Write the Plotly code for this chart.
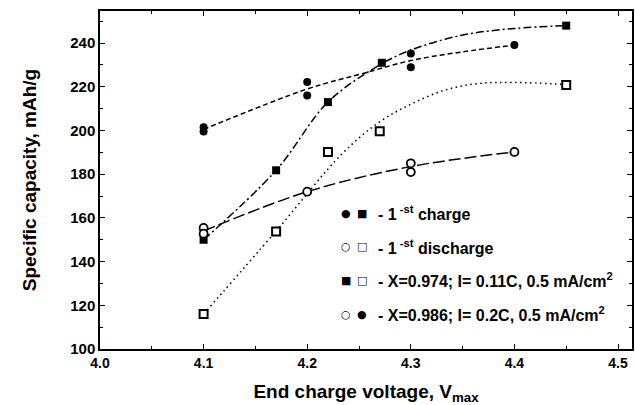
import plotly.graph_objects as go

# ---------------- data ----------------
# X=0.986, 1st charge (filled circles)
a_x = [4.1, 4.1, 4.2, 4.2, 4.3, 4.3, 4.4]
a_y = [201.5, 199.5, 222.2, 216.0, 235.3, 228.9, 239.1]
# X=0.974, 1st charge (filled squares)
b_x = [4.1, 4.17, 4.22, 4.272, 4.45]
b_y = [150.0, 181.8, 213.0, 231.0, 248.0]
# X=0.974, 1st discharge (open squares)
c_x = [4.1, 4.17, 4.22, 4.27, 4.45]
c_y = [116.0, 153.8, 190.2, 199.7, 220.8]
# X=0.986, 1st discharge (open circles)
d_x = [4.1, 4.1, 4.2, 4.3, 4.3, 4.4]
d_y = [155.4, 152.8, 172.0, 185.0, 181.0, 190.2]

# guide curves drawn through the data
a_fit_x = [4.1, 4.2, 4.253, 4.30, 4.35, 4.40]
a_fit_y = [200.5, 219.0, 226.0, 232.0, 236.0, 239.1]
b_fit_x = [4.1, 4.17, 4.22, 4.27, 4.30, 4.35, 4.40, 4.45]
b_fit_y = [150.0, 181.8, 213.0, 230.0, 236.8, 243.7, 246.7, 248.0]
c_fit_x = [4.1, 4.17, 4.234, 4.27, 4.30, 4.333, 4.365, 4.40, 4.45]
c_fit_y = [116.0, 154.0, 189.5, 204.0, 212.0, 218.5, 221.5, 222.0, 221.0]
d_fit_x = [4.1, 4.2, 4.3, 4.4]
d_fit_y = [154.0, 172.0, 183.5, 190.2]

x_ticks = [4.0, 4.1, 4.2, 4.3, 4.4, 4.5]
y_ticks = [100, 120, 140, 160, 180, 200, 220, 240]

legend_rows = [
    ("\u25CF", "\u25A0", "- 1<sup> -st</sup> charge"),
    ("\u25CB", "\u25A1", "- 1<sup> -st</sup> discharge"),
    ("\u25A0", "\u25A1", "- X=0.974; I= 0.11C, 0.5 mA/cm<sup>2</sup>"),
    ("\u25CB", "\u25CF", "- X=0.986; I= 0.2C, 0.5 mA/cm<sup>2</sup>"),
]
legend_y = [162.2, 146.7, 131.4, 115.8]

FONT = "Liberation Sans, Arial, sans-serif"
fig = go.Figure()

line_w = 1.5
fig.add_trace(go.Scatter(x=a_fit_x, y=a_fit_y, mode="lines",
                         line=dict(color="black", width=line_w, dash="5px,3px", shape="spline"),
                         showlegend=False, hoverinfo="skip"))
fig.add_trace(go.Scatter(x=b_fit_x, y=b_fit_y, mode="lines",
                         line=dict(color="black", width=line_w, dash="8px,3px,2px,3px", shape="spline"),
                         showlegend=False, hoverinfo="skip"))
fig.add_trace(go.Scatter(x=c_fit_x, y=c_fit_y, mode="lines",
                         line=dict(color="black", width=line_w, dash="1.5px,3.5px", shape="spline"),
                         showlegend=False, hoverinfo="skip"))
fig.add_trace(go.Scatter(x=d_fit_x, y=d_fit_y, mode="lines",
                         line=dict(color="black", width=line_w, dash="12px,4px", shape="spline"),
                         showlegend=False, hoverinfo="skip"))

fig.add_trace(go.Scatter(x=a_x, y=a_y, mode="markers",
                         marker=dict(symbol="circle", size=8, color="black"),
                         showlegend=False))
fig.add_trace(go.Scatter(x=b_x, y=b_y, mode="markers",
                         marker=dict(symbol="square", size=8, color="black"),
                         showlegend=False))
fig.add_trace(go.Scatter(x=c_x, y=c_y, mode="markers",
                         marker=dict(symbol="square", size=8, color="white",
                                     line=dict(color="black", width=2)),
                         showlegend=False))
fig.add_trace(go.Scatter(x=d_x, y=d_y, mode="markers",
                         marker=dict(symbol="circle", size=8, color="white",
                                     line=dict(color="black", width=1.8)),
                         showlegend=False))

for (s1, s2, txt), yy in zip(legend_rows, legend_y):
    fig.add_annotation(x=4.2372, y=yy, text=s1, showarrow=False, xanchor="center",
                       yanchor="middle", font=dict(size=11, color="black", family="DejaVu Sans"))
    fig.add_annotation(x=4.2529, y=yy, text=s2, showarrow=False, xanchor="center",
                       yanchor="middle", font=dict(size=11, color="black", family="DejaVu Sans"))
    fig.add_annotation(x=4.2661, y=yy, text="<b>" + txt + "</b>", showarrow=False,
                       xanchor="left", yanchor="middle",
                       font=dict(size=16, color="black", family=FONT))

fig.update_xaxes(range=[4.0, 4.5135], tickvals=x_ticks,
                 ticktext=["<b>%.1f</b>" % v for v in x_ticks],
                 showline=True, linecolor="black", linewidth=1.5, mirror="ticks",
                 ticks="inside", ticklen=5, tickwidth=1, tickcolor="black",
                 minor=dict(dtick=0.05, ticks="inside", ticklen=3, tickcolor="black"),
                 showgrid=False, zeroline=False,
                 tickfont=dict(size=14, color="black", family=FONT),
                 title=dict(text="<b>End charge voltage, V<sub>max</sub></b>", standoff=16,
                            font=dict(size=19, color="black", family=FONT)))
fig.update_yaxes(range=[100, 254.7], tickvals=y_ticks,
                 ticktext=["<b>%d</b>" % v for v in y_ticks],
                 showline=True, linecolor="black", linewidth=1.5, mirror="ticks",
                 ticks="inside", ticklen=5, tickwidth=1, tickcolor="black",
                 minor=dict(dtick=10, ticks="inside", ticklen=3, tickcolor="black"),
                 showgrid=False, zeroline=False,
                 tickfont=dict(size=15, color="black", family=FONT),
                 title=dict(text="<b>Specific capacity, mAh/g</b>", standoff=29,
                            font=dict(size=19, color="black", family=FONT)))

fig.update_layout(width=635, height=405, margin=dict(l=100, r=1, t=11, b=56),
                  paper_bgcolor="white", plot_bgcolor="white",
                  font=dict(family=FONT, color="black"))

fig.write_html("out.html")
